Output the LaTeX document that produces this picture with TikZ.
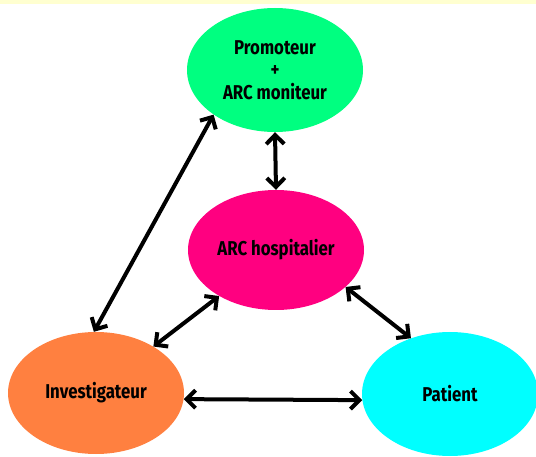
\documentclass[tikz,border=0pt]{standalone}
\usepackage{fontspec}
\newfontfamily\lblfont[FakeStretch=0.84]{Fira Sans}
\usetikzlibrary{shapes.geometric,arrows.meta}
\definecolor{cgreen}{RGB}{0,255,128}
\definecolor{cpink}{RGB}{255,0,128}
\definecolor{corange}{RGB}{255,128,64}
\definecolor{ccyan}{RGB}{0,255,255}
\definecolor{cyellow}{RGB}{255,255,208}
\tikzset{
  bubble/.style={ellipse, inner sep=0pt, minimum width=176pt, minimum height=124pt,
    font=\lblfont\bfseries\fontsize{20}{22.5}\selectfont, align=center, text=black},
  link/.style={line width=4pt, {Straight Barb[length=9pt,width=18pt]}-{Straight Barb[length=9pt,width=18pt]}}
}
\begin{document}
\begin{tikzpicture}[x=1pt,y=-1pt]
\useasboundingbox (0,0) rectangle (536,457);
\fill[cyellow] (0,0) rectangle (536,4);
\node[bubble, fill=cgreen] (prom) at (275,70) {Promoteur\\+\\ARC moniteur};
\node[bubble, fill=cpink, minimum height=120pt] (arc) at (276,250) {ARC hospitalier};
\node[bubble, fill=corange, minimum height=122pt] (inv) at (96,393) {Investigateur};
\node[bubble, fill=ccyan] (pat) at (450,394) {Patient};
\draw[link] (prom.-90) -- (arc.90);
\draw[link] (prom.-144.5) -- (inv.92);
\draw[link] (arc.-141.8) -- (inv.39);
\draw[link] (arc.-28.7) -- (pat.125.4);
\draw[link] (inv.-4) -- (pat.184);
\end{tikzpicture}
\end{document}
